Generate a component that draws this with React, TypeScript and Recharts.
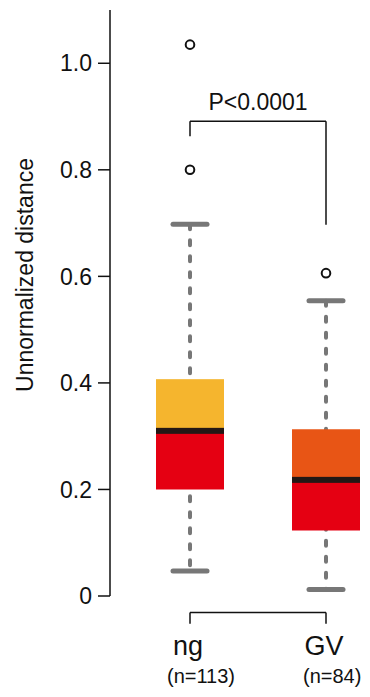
import { ComposedChart, Bar, Scatter, XAxis, YAxis, ReferenceLine } from 'recharts';

// box plot summary per group
const groups = ['ng', 'GV'];
const sampleSizes = [113, 84];
const whiskerLow = [0.047, 0.012];
const q1 = [0.2, 0.123];
const median = [0.31, 0.218];
const q3 = [0.407, 0.313];
const whiskerHigh = [0.698, 0.554];

// outliers
const outlierGroups = ['ng', 'ng', 'GV'];
const outlierValues = [1.035, 0.8, 0.606];

const yTicks = [0, 0.2, 0.4, 0.6, 0.8, 1.0];

// significance bracket
const pValueText = 'P<0.0001';
const bracketTop = 0.891;
const bracketLegLeft = 0.863;
const bracketLegRight = 0.697;

// grouping bracket under the axis
const groupBracketTop = -0.031;
const groupBracketLeg = -0.052;

const upperColors = ['#F5B52E', '#E85515'];
const lowerColor = '#E50012';
const medianColor = '#231815';
const whiskerColor = '#777777';
const ink = '#111111';

const data = groups.map((g, i) => ({
  cat: g,
  whisker: [whiskerLow[i], whiskerHigh[i]],
  lower: [q1[i], median[i]],
  upper: [median[i], q3[i]],
}));

const outliers = outlierGroups.map((g, i) => ({ cat: g, value: outlierValues[i] }));

function WhiskerShape(props: any) {
  const { x, y, width, height } = props;
  const cx = x + width / 2;
  const capHalf = 17;
  return (
    <g>
      <line x1={cx} x2={cx} y1={y} y2={y + height} stroke={whiskerColor} strokeWidth={4} strokeDasharray="5 11" strokeLinecap="round" />
      <line x1={cx - capHalf} x2={cx + capHalf} y1={y} y2={y} stroke={whiskerColor} strokeWidth={5} strokeLinecap="round" />
      <line x1={cx - capHalf} x2={cx + capHalf} y1={y + height} y2={y + height} stroke={whiskerColor} strokeWidth={5} strokeLinecap="round" />
    </g>
  );
}

function UpperBoxShape(props: any) {
  const { x, y, width, height, index } = props;
  return (
    <g>
      <rect x={x} y={y} width={width} height={height} fill={upperColors[index]} />
      {/* median line sits on the bottom edge of the upper half */}
      <rect x={x} y={y + height - 3} width={width} height={6} fill={medianColor} />
    </g>
  );
}

function OutlierShape(props: any) {
  const { cx, cy } = props;
  return <circle cx={cx} cy={cy} r={4.3} fill="#fff" stroke={ink} strokeWidth={2} />;
}

function CategoryTick(props: any) {
  const { x, y, payload, index } = props;
  return (
    <g>
      <text x={x - 2} y={y + 59} textAnchor="middle" fontSize={27} fill={ink}>
        {payload.value}
      </text>
      <text x={x - 23} y={y + 87} textAnchor="start" fontSize={20} fill={ink}>
        (n={sampleSizes[index]})
      </text>
    </g>
  );
}

function YLabel(props: any) {
  const { viewBox } = props;
  const x = viewBox.x + 33;
  const y = viewBox.y + viewBox.height / 2 - 28;
  return (
    <text x={x} y={y} transform={`rotate(-90, ${x}, ${y})`} textAnchor="middle" fontSize={23} fill={ink}>
      Unnormalized distance
    </text>
  );
}

export default function App() {
  return (
    <div style={{ margin: -8, fontFamily: '"Liberation Sans", Arial, sans-serif' }}>
      <ComposedChart
        width={370}
        height={697}
        data={data}
        margin={{ top: 10, right: 0, bottom: 0, left: 0 }}
        barSize={68}
        barGap={-68}
      >
        <XAxis
          dataKey="cat"
          allowDuplicatedCategory={false}
          axisLine={false}
          tickLine={false}
          tickSize={0}
          tickMargin={0}
          interval={0}
          height={101}
          padding={{ left: 12, right: -24 }}
          tick={<CategoryTick />}
        />
        <YAxis
          domain={[0, 1.1]}
          ticks={yTicks}
          tickFormatter={(v: number) => (v === 0 ? '0' : v.toFixed(1))}
          width={110}
          tickSize={12}
          tickMargin={6}
          axisLine={{ stroke: ink, strokeWidth: 1.5 }}
          tickLine={{ stroke: ink, strokeWidth: 1.5 }}
          tick={{ fontSize: 23, fill: ink }}
          label={<YLabel />}
        />
        <Bar dataKey="whisker" shape={<WhiskerShape />} isAnimationActive={false} />
        <Bar dataKey="lower" fill={lowerColor} isAnimationActive={false} />
        <Bar dataKey="upper" shape={<UpperBoxShape />} isAnimationActive={false} />
        <Scatter data={outliers} dataKey="value" shape={<OutlierShape />} isAnimationActive={false} />

        <ReferenceLine
          segment={[{ x: 'ng', y: bracketTop }, { x: 'GV', y: bracketTop }]}
          stroke={ink}
          strokeWidth={1.5}
          label={{ value: pValueText, position: 'top', offset: 11, fontSize: 23, fill: ink }}
        />
        <ReferenceLine segment={[{ x: 'ng', y: bracketLegLeft }, { x: 'ng', y: bracketTop }]} stroke={ink} strokeWidth={1.5} />
        <ReferenceLine segment={[{ x: 'GV', y: bracketLegRight }, { x: 'GV', y: bracketTop }]} stroke={ink} strokeWidth={1.5} />

        <ReferenceLine
          segment={[{ x: 'ng', y: groupBracketTop }, { x: 'GV', y: groupBracketTop }]}
          stroke={ink}
          strokeWidth={1.5}
          ifOverflow="visible"
        />
        <ReferenceLine segment={[{ x: 'ng', y: groupBracketLeg }, { x: 'ng', y: groupBracketTop }]} stroke={ink} strokeWidth={1.5} ifOverflow="visible" />
        <ReferenceLine segment={[{ x: 'GV', y: groupBracketLeg }, { x: 'GV', y: groupBracketTop }]} stroke={ink} strokeWidth={1.5} ifOverflow="visible" />
      </ComposedChart>
    </div>
  );
}
